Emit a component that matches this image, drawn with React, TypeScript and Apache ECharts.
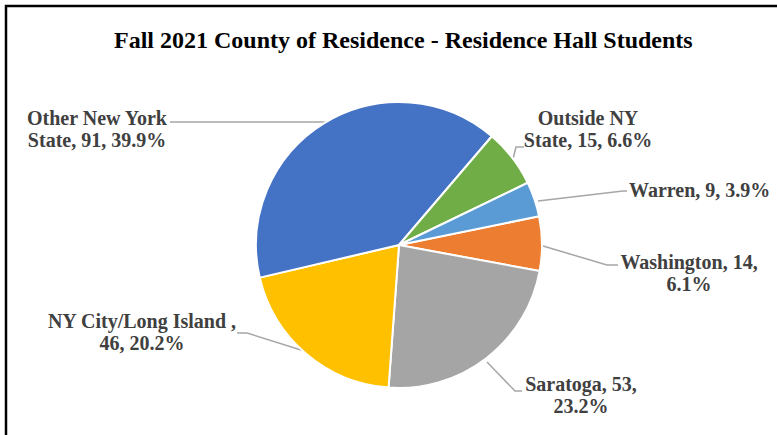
import React, { useEffect, useRef } from "react";
import * as echarts from "echarts";

const titleText = "Fall 2021 County of Residence - Residence Hall Students";
const categories = [
  "Washington",
  "Saratoga",
  "NY City/Long Island ",
  "Other New York State",
  "Outside NY State",
  "Warren",
];
const values = [14, 53, 46, 91, 15, 9];
const colors = ["#ED7D31", "#A5A5A5", "#FFC000", "#4472C4", "#70AD47", "#5B9BD5"];
// text of the first label line for each slice (rest goes to line 2); null = single line
const firstLines: (string | null)[] = [
  "Washington, 14,",
  "Saratoga, 53,",
  "NY City/Long Island ,",
  "Other New York",
  "Outside NY",
  null,
];

// label placement (layout only)
const labelPos = [
  { x: 689, y: 273, align: "center" },
  { x: 581, y: 395, align: "center" },
  { x: 142, y: 332, align: "center" },
  { x: 97, y: 129, align: "center" },
  { x: 588, y: 129, align: "center" },
  { x: 629, y: 190, align: "left" },
];
const linePts = [
  [[543, 246], [607, 265], [618, 265]],
  [[487, 362], [515, 391], [522, 391]],
  [[301, 350], [247, 333], [237, 333]],
  [[326, 122], [250, 122], [170, 122]],
  [[513, 159], [516, 147], [524, 147]],
  [[538, 201], [623, 191], [627, 191]],
];

export default function App() {
  const ref = useRef<HTMLDivElement>(null);
  useEffect(() => {
    if (!ref.current) return;
    const chart = echarts.init(ref.current, undefined, { renderer: "svg" });
    const total = values.reduce((a, b) => a + b, 0);
    const font = "'Liberation Serif', 'Times New Roman', serif";
    chart.setOption({
      animation: false,
      backgroundColor: "#ffffff",
      title: {
        text: titleText,
        left: 109,
        top: 23,
        textStyle: {
          fontFamily: font,
          fontWeight: "bold",
          fontSize: 24,
          color: "#000000",
        },
      },
      graphic: [
        {
          type: "polyline",
          shape: { points: [[6, 440], [6, 6], [790, 6]] },
          style: { stroke: "#000000", lineWidth: 2.5, fill: "none" },
          silent: true,
        },
      ],
      series: [
        {
          type: "pie",
          center: [399, 245],
          radius: 143,
          startAngle: 11.6,
          clockwise: true,
          avoidLabelOverlap: false,
          itemStyle: { borderColor: "#ffffff", borderWidth: 2 },
          label: {
            show: true,
            position: "outside",
            fontFamily: font,
            fontWeight: "bold",
            fontSize: 20,
            lineHeight: 22,
            color: "#404040",
            formatter: (p: any) => {
              const i = p.dataIndex;
              const pct = ((values[i] / total) * 100).toFixed(1);
              const full = `${categories[i]}, ${values[i]}, ${pct}%`;
              const first = firstLines[i];
              if (!first) return full;
              const rest = full.slice(first.length).trim();
              return `${first}\n${rest}`;
            },
          },
          labelLine: {
            show: true,
            length: 10,
            length2: 10,
            lineStyle: { color: "#A6A6A6", width: 1.5 },
          },
          labelLayout: (params: any) => {
            const i = params.dataIndex;
            return {
              x: labelPos[i].x,
              y: labelPos[i].y,
              align: labelPos[i].align,
              verticalAlign: "middle",
              labelLinePoints: linePts[i],
            };
          },
          data: categories.map((name, i) => ({
            name,
            value: values[i],
            itemStyle: { color: colors[i] },
          })),
        },
      ],
    });
    return () => chart.dispose();
  }, []);
  return (
    <div
      ref={ref}
      style={{ position: "fixed", left: 0, top: 0, width: 777, height: 435 }}
    />
  );
}
